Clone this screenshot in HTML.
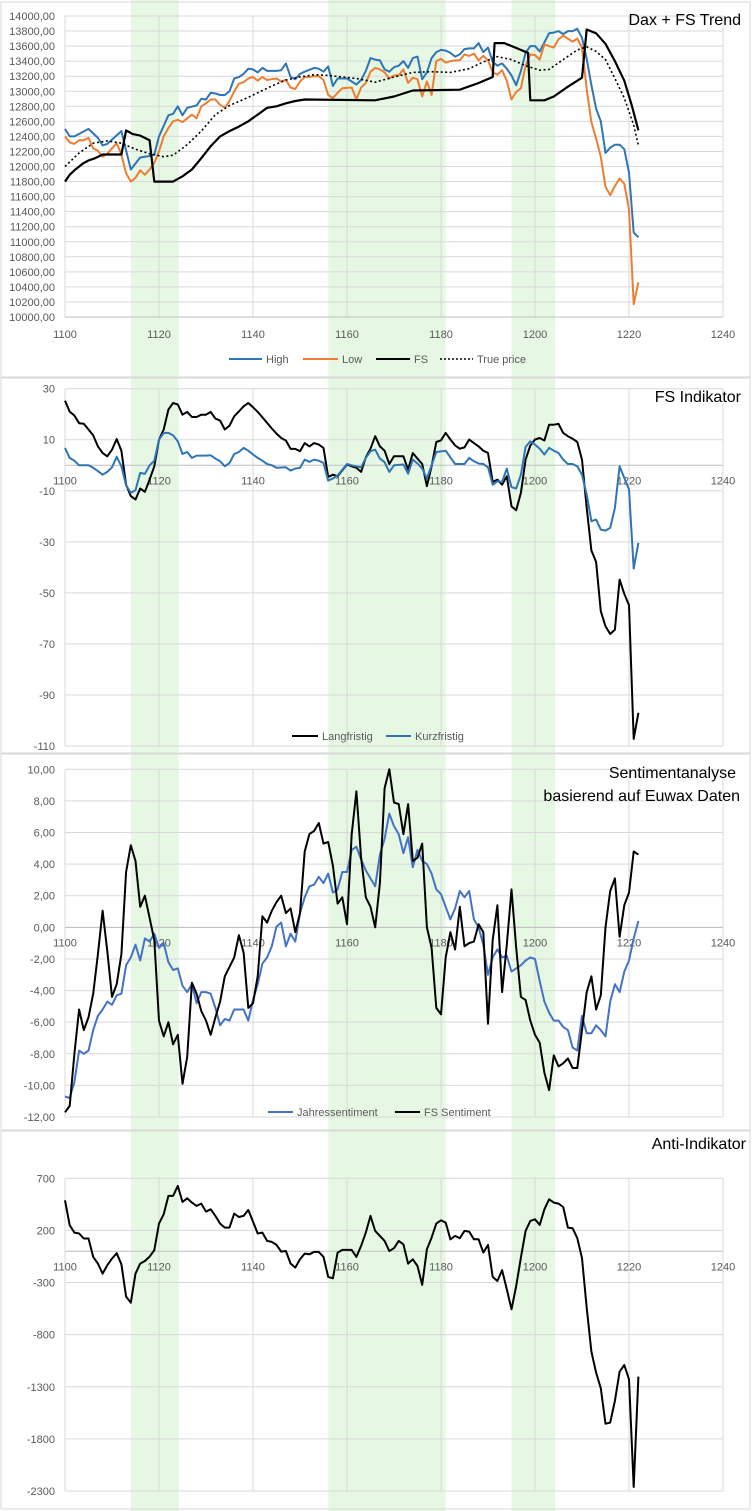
<!DOCTYPE html>
<html><head><meta charset="utf-8">
<style>
html,body{margin:0;padding:0;background:#fff;}
svg{display:block;font-family:"Liberation Sans",sans-serif;}
</style></head>
<body>
<svg id="chart" width="752" height="1511" viewBox="0 0 752 1511" xmlns="http://www.w3.org/2000/svg"></svg>
<script>
// ---------- DATA ----------
const bandStarts = [1114, 1156, 1195];
const bandEnds = [1124.2, 1181, 1204.3];
const xTicks = [1100, 1120, 1140, 1160, 1180, 1200, 1220, 1240];

// Panel 1
const p1Ticks = [10000,10200,10400,10600,10800,11000,11200,11400,11600,11800,12000,12200,12400,12600,12800,13000,13200,13400,13600,13800,14000];
const highX = [1100,1101,1102,1105,1107,1108,1109,1112,1114,1116,1118,1119,1120,1122,1123,1124,1125,1126,1128,1129,1130,1131,1132,1133,1134,1135,1136,1137,1138,1139,1140,1141,1142,1143,1145,1146,1147,1148,1149,1150,1151,1153,1154,1155,1156,1157,1158,1160,1162,1163,1164,1165,1166,1167,1168,1169,1170,1171,1172,1173,1174,1175,1176,1177,1178,1179,1180,1181,1182,1183,1184,1185,1186,1187,1188,1189,1190,1191,1192,1193,1194,1195,1196,1197,1198,1199,1200,1201,1202,1203,1204,1205,1206,1207,1208,1209,1210,1211,1212,1213,1214,1215,1216,1217,1218,1219,1220,1221,1222];
const highY = [12500,12400,12400,12500,12380,12280,12300,12470,11960,12120,12140,12160,12400,12680,12700,12800,12680,12780,12810,12900,12890,12980,12970,12950,12950,13000,13170,13190,13230,13300,13290,13250,13310,13270,13270,13280,13370,13190,13160,13230,13260,13310,13300,13260,13330,13070,13170,13170,13090,13150,13270,13440,13420,13410,13290,13260,13320,13340,13400,13310,13440,13460,13160,13250,13440,13520,13550,13540,13510,13460,13490,13560,13570,13570,13640,13520,13580,13390,13340,13370,13300,13210,13080,13270,13510,13600,13600,13530,13650,13770,13780,13800,13760,13800,13800,13830,13710,13430,13080,12770,12600,12180,12250,12290,12290,12230,11920,11120,11060];
const lowX = [1100,1101,1102,1103,1104,1105,1106,1107,1108,1109,1110,1111,1112,1113,1114,1115,1116,1117,1118,1119,1120,1121,1122,1123,1124,1125,1126,1127,1128,1129,1130,1131,1132,1133,1134,1135,1136,1137,1138,1139,1140,1141,1142,1143,1144,1145,1146,1147,1148,1149,1150,1151,1152,1153,1154,1155,1156,1157,1158,1159,1161,1162,1163,1164,1165,1166,1167,1168,1169,1170,1171,1172,1173,1174,1175,1176,1177,1178,1179,1180,1181,1182,1183,1184,1185,1186,1187,1188,1189,1190,1191,1192,1193,1194,1195,1196,1197,1198,1199,1200,1201,1202,1203,1204,1205,1206,1207,1208,1209,1210,1211,1212,1213,1214,1215,1216,1217,1218,1219,1220,1221,1222];
const lowY = [12400,12320,12300,12350,12350,12380,12240,12210,12130,12170,12240,12310,12160,11910,11800,11850,11950,11890,11960,12050,12200,12400,12510,12600,12620,12590,12640,12690,12640,12800,12840,12890,12890,12820,12780,12870,13000,13100,13120,13170,13190,13140,13190,13150,13160,13170,13130,13150,13050,13030,13130,13190,13190,13200,13200,13150,12950,12910,12980,13040,13050,12890,13050,13110,13260,13310,13290,13250,13170,13210,13210,13290,13110,13180,13160,12930,13130,12950,13400,13430,13380,13400,13410,13410,13490,13470,13500,13410,13470,13410,13250,13220,13280,13140,12890,12990,13040,13340,13490,13480,13420,13620,13600,13580,13690,13740,13700,13660,13700,13580,13030,12590,12370,12130,11730,11620,11740,11840,11770,11430,10170,10460];
const fsX = [1100,1101,1102,1103.8,1105,1106.4,1108,1112,1113,1114.4,1116,1118,1119,1123,1125,1127,1129,1131,1133,1135,1137,1139,1141,1143,1145,1147,1149,1151,1166,1170,1174,1184,1188,1191,1191.4,1193.5,1198.5,1199,1202,1204,1207,1210,1211,1213,1215,1217,1219,1220.6,1222];
const fsY = [11800,11890,11950,12040,12080,12110,12160,12160,12480,12430,12410,12350,11800,11800,11870,11960,12110,12270,12400,12470,12530,12600,12690,12780,12800,12840,12870,12890,12880,12930,13010,13020,13110,13190,13640,13640,13510,12880,12880,12930,13060,13180,13820,13770,13630,13400,13140,12810,12480];
const trueX = [1100,1103,1106,1109,1112,1115,1118,1121,1123,1126,1129,1132,1135,1138,1141,1144,1147,1150,1153,1156,1159,1162,1166,1170,1174,1178,1182,1186,1189,1192,1195,1198,1201,1203,1206,1209,1211,1213,1215,1217,1219,1221,1222];
const trueY = [12000,12180,12310,12340,12310,12230,12170,12130,12150,12290,12470,12690,12810,12890,12980,13070,13150,13190,13220,13210,13190,13170,13120,13190,13250,13260,13250,13300,13390,13460,13420,13340,13280,13290,13420,13550,13590,13530,13420,13170,12910,12550,12280];

// Panel 2
const p2Ticks = [30,10,-10,-30,-50,-70,-90,-110];
const langX = [1100,1101,1102,1103,1104,1105,1106,1107,1108,1109,1110,1111,1112,1113,1114,1115,1116,1117,1118,1119,1120,1121,1122,1123,1124,1125,1126,1127,1128,1129,1130,1131,1132,1133,1134,1135,1136,1137,1138,1139,1140,1141,1142,1143,1144,1145,1146,1147,1148,1149,1150,1151,1152,1153,1154,1155,1156,1157,1158,1160,1161,1162,1163,1164,1165,1166,1167,1168,1169,1170,1172,1173,1174,1175,1176,1177,1178,1179,1180,1181,1182,1183,1184,1185,1186,1187,1188,1189,1190,1191,1192,1193,1194,1195,1196,1197,1198,1199,1200,1201,1202,1203,1204,1205,1206,1207,1208,1209,1210,1211,1212,1213,1214,1215,1216,1217,1218,1219,1220,1221,1222];
const langY = [25.3,21,19.5,16.5,16.3,14,11.7,7.4,4.8,3.5,6.1,10.3,5.7,-7.6,-12.1,-13.4,-9.1,-10.4,-5.6,-0.4,10,14,21.8,24.4,23.8,19.8,20.9,18.9,18.9,19.8,19.8,20.9,18.3,17.5,14,15.5,19.2,21.1,23.1,24.4,22.7,20.9,18.8,16.6,14.4,12.4,10.7,9.7,6.4,6.4,5.5,8.7,7.4,8.7,8.1,6.8,-4.6,-3.7,-4.3,0.3,-0.4,-1,-2.6,3.1,6.5,11.4,7.4,5.7,0.5,3.5,3.5,-1.7,4.8,2.6,0.5,-8.2,-0.4,9.1,9.8,12.7,10.1,7.8,6.5,7,10.1,8.7,7.4,5.7,4.8,-6.5,-5.6,-7.6,-4.3,-16.1,-17.6,-10.8,2.2,7.7,10.1,10.7,9.7,15.9,15.9,16.2,12.7,11.4,10.4,9.1,2.2,-16.7,-33.4,-37.9,-57.2,-63.1,-66.1,-64.4,-44.8,-50.4,-54.8,-107.2,-97];
const kurzX = [1100,1101,1102,1103,1105,1106,1107,1108,1109,1110,1111,1112,1113,1114,1115,1116,1117,1118,1119,1120,1121,1122,1123,1124,1125,1126,1127,1128,1130,1131,1132,1133,1134,1135,1136,1137,1138,1139,1140,1141,1142,1143,1144,1145,1147,1148,1149,1150,1151,1152,1153,1154,1155,1156,1157,1158,1160,1161,1162,1163,1164,1165,1166,1167,1168,1169,1170,1172,1173,1174,1175,1176,1177,1178,1179,1181,1182,1183,1185,1186,1187,1188,1189,1190,1191,1192,1193,1194,1195,1196,1197,1198,1199,1200,1201,1202,1203,1204,1205,1206,1207,1208,1209,1210,1211,1212,1213,1214,1215,1216,1217,1218,1219,1220,1221,1222];
const kurzY = [6.8,2.9,1.8,0,0,-1,-2.3,-3.7,-2.6,-0.8,3.3,-0.4,-7.8,-10.8,-9.8,-3,-3.4,0,1.8,10,12.7,12.7,11.7,9.4,4.4,5.2,2.9,3.8,3.8,3.9,2.6,1.6,-0.4,0.9,4.4,5.2,6.8,5.7,4.2,2.9,1.8,0.5,0,-1,-0.8,-2.1,-1.3,-1,2.2,1.3,2.2,1.8,0.9,-6,-5.2,-4,0.5,0,-0.4,-0.8,2.9,5.5,6.1,2.6,1.2,-2.6,0,0.3,-3.3,2.2,0.7,-1.3,-5.2,0,5.2,5.7,3.1,0.5,0.5,2.9,1.6,0.7,0.5,-0.8,-7.6,-6.3,-6.5,-1.3,-8.6,-9.1,-3.7,7.2,9.4,8.1,6.5,4.2,6.8,5.7,4.8,2.2,0.5,0.5,-0.4,-3.7,-11.5,-21.9,-21.3,-25.2,-25.6,-24.5,-16.7,-0.4,-5,-9.5,-40.5,-30.4];

// Panel 3
const p3Ticks = [10,8,6,4,2,0,-2,-4,-6,-8,-10,-12];
const p3Labels = ["10,00","8,00","6,00","4,00","2,00","0,00","-2,00","-4,00","-6,00","-8,00","-10,00","-12,00"];
const fsSentY = [-11.7,-11.3,-8,-5.2,-6.5,-5.7,-4.2,-1.7,1.05,-1.5,-4.4,-3.6,-1.7,3.5,5.2,4.2,1.3,2,0.6,-0.8,-5.9,-6.9,-6,-7.4,-6.8,-9.9,-8.2,-3.5,-4.2,-5.3,-5.9,-6.8,-5.7,-4.7,-3.1,-2.5,-1.9,-0.5,-1.6,-5.1,-4.8,-3.1,0.7,0.3,1.05,1.6,2,0.9,1.2,-0.3,0.9,4.8,5.9,6.1,6.6,5.3,5.4,3.9,1.5,1.9,0.2,5.9,8.6,4.4,1.9,1.3,0,2.8,8.8,10,7.9,7.8,5.9,7.8,4.2,4.4,5.3,0,-1.3,-5.1,-5.5,-1.9,-0.3,-1.4,1.3,-1.2,-1,-0.9,0.2,-0.3,-6.1,-0.8,1.4,-4.1,-1.1,2.4,-1.3,-4.4,-4.6,-5.9,-6.8,-7.3,-9.2,-10.3,-8.1,-8.8,-8.6,-8.3,-8.9,-8.9,-6.5,-4.1,-3.1,-5.2,-4.3,0,2.3,3.1,-0.6,1.4,2.2,4.8,4.6];
const jahresY = [-10.7,-10.8,-9.8,-7.8,-8,-7.8,-6.5,-5.6,-5.2,-4.7,-4.9,-4.3,-4.2,-2.4,-1.9,-1.1,-2.1,-0.7,-0.9,-0.4,-1.3,-1,-2.2,-2.7,-2.6,-3.7,-4.1,-3.6,-4.8,-4.1,-4.1,-4.2,-5.1,-6.2,-5.8,-5.9,-5.2,-5.2,-5.2,-5.9,-4.6,-3.6,-2.3,-1.9,-1.2,0.05,0.3,-1.2,-0.4,-0.9,0.9,1.9,2.6,2.7,3.2,2.8,3.4,2.2,2.4,3.5,3.5,4.9,5.1,4.3,3.6,3.1,2.6,4.6,5.6,7.2,6.4,5.9,4.7,5.7,3.8,4.9,4.2,4,3.4,2.4,2.1,1.3,0.5,1.2,2.3,1.9,2.3,0.5,0,-1.1,-3,-1.9,-1.4,-1.9,-1.8,-2.8,-2.6,-2.4,-2.1,-1.9,-2,-3.4,-4.7,-5.4,-5.9,-5.9,-6.3,-6.5,-7.6,-7.8,-5.6,-6.7,-6.7,-6.2,-6.5,-6.9,-4.7,-3.6,-4.1,-2.8,-2.1,-0.7,0.4];

// Panel 4
const p4Ticks = [700,200,-300,-800,-1300,-1800,-2300];
const antiY = [489,250,179,170,122,122,-54,-118,-214,-134,-70,-19,-125,-435,-493,-214,-118,-93,-51,10,265,355,531,531,627,473,508,467,435,457,381,403,339,265,227,227,361,329,339,397,285,170,179,99,90,61,-3,3,-118,-157,-77,-22,-29,-6,-6,-54,-246,-259,-13,13,13,13,-54,51,179,339,195,147,99,3,29,99,67,-118,-77,-141,-323,19,131,265,297,275,115,147,125,195,189,115,115,-13,61,-246,-285,-182,-365,-557,-333,-61,195,291,307,253,403,499,467,457,425,227,221,125,-67,-541,-963,-1164,-1315,-1654,-1644,-1436,-1155,-1091,-1228,-2261,-1202];

// ---------- RENDER ----------
const NS = "http://www.w3.org/2000/svg";
const svg = document.getElementById('chart');
function mk(tag, attrs, parent) {
  const e = document.createElementNS(NS, tag);
  for (const k in attrs) e.setAttribute(k, attrs[k]);
  (parent || svg).appendChild(e);
  return e;
}
const X0 = 65, X1 = 723;
function xs(v) { return X0 + (v - 1100) * (X1 - X0) / 140; }
function seqX(n) { const a = []; for (let i = 0; i < n; i++) a.push(1100 + i); return a; }

for (let i = 0; i < bandStarts.length; i++) {
  const r = mk('rect', {x: xs(bandStarts[i]), y: 0, width: xs(bandEnds[i]) - xs(bandStarts[i]), height: 1511, fill: '#E6F8E4'});
  
  
}

function panel(cfg) {
  const g = mk('g', {});
  
  
  mk('rect', {x: 1, y: cfg.top, width: 749, height: cfg.h, fill: 'none', stroke: '#d9d9d9', 'stroke-width': 1}, g);
  const ys = v => cfg.yTop + (cfg.max - v) * (cfg.yBot - cfg.yTop) / (cfg.max - cfg.min);
  cfg.ticks.forEach((t, i) => {
    const y = ys(t);
    const gl = mk('line', {x1: X0, x2: X1, y1: y, y2: y, stroke: '#d9d9d9', 'stroke-width': 1}, g);
    
    
    const tl = mk('text', {x: 55, y: y + 4, 'text-anchor': 'end', 'font-size': 11, fill: '#595959'}, g);
    tl.textContent = cfg.labels ? cfg.labels[i] : String(t);
    
    
  });
  xTicks.forEach(t => {
    const x = xs(t);
    const vl = mk('line', {x1: x, x2: x, y1: cfg.yTop, y2: cfg.yBot, stroke: '#d9d9d9', 'stroke-width': 1}, g);
    
    
  });
  const axY = cfg.axisAt !== undefined ? ys(cfg.axisAt) : cfg.yBot;
  const ax = mk('line', {x1: X0, x2: X1, y1: axY, y2: axY, stroke: '#bfbfbf', 'stroke-width': 1}, g);
  
  
  xTicks.forEach(t => {
    const tl = mk('text', {x: xs(t), y: axY + (cfg.axisAt !== undefined ? 19 : 21), 'text-anchor': 'middle', 'font-size': 11, fill: '#595959'}, g);
    tl.textContent = t;
    
    
  });
  cfg.series.forEach(s => {
    const xsArr = s.x || seqX(s.y.length);
    const pts = s.y.map((v, i) => xs(xsArr[i]).toFixed(1) + ',' + ys(v).toFixed(1)).join(' ');
    const attrs = {points: pts, fill: 'none', stroke: s.color, 'stroke-width': s.w || 2, 'stroke-linejoin': 'round'};
    if (s.dash) attrs['stroke-dasharray'] = s.dash;
    const pl = mk('polyline', attrs, g);
    
    
  });
  cfg.title.forEach(t => {
    const tt = mk('text', {x: t.x, y: t.y, 'text-anchor': 'end', 'font-size': 16, fill: '#000'}, g);
    tt.textContent = t.text;
    
    
  });
  cfg.legend.forEach(l => {
    const lg = mk('g', {}, g);
    
    
    const la = {x1: l.x, x2: l.x + l.len, y1: l.y, y2: l.y, stroke: l.color, 'stroke-width': l.w || 2};
    if (l.dash) la['stroke-dasharray'] = l.dash;
    mk('line', la, lg);
    const lt = mk('text', {x: l.x + l.len + 4, y: l.y + 4, 'font-size': 11, fill: '#595959'}, lg);
    lt.textContent = l.text;
  });
}

panel({name: 'dax-fs-trend-chart', top: 2, h: 375, yTop: 16, yBot: 317, max: 14000, min: 10000,
  ticks: p1Ticks, labels: p1Ticks.map(t => t + ',00'),
  series: [
    {name: 'high-line', x: highX, y: highY, color: '#2E75B6', w: 2},
    {name: 'low-line', x: lowX, y: lowY, color: '#ED7D31', w: 2},
    {name: 'true-price-line', x: trueX, y: trueY, color: '#000', w: 1.6, dash: '2,2.5'},
    {name: 'fs-line', x: fsX, y: fsY, color: '#000', w: 2.2}
  ],
  title: [{text: 'Dax + FS Trend', x: 741, y: 25}],
  legend: [
    {text: 'High', x: 229, y: 359, len: 33, color: '#2E75B6'},
    {text: 'Low', x: 303, y: 359, len: 35, color: '#ED7D31'},
    {text: 'FS', x: 376, y: 359, len: 34, color: '#000'},
    {text: 'True price', x: 440, y: 359, len: 33, color: '#000', w: 1.6, dash: '2,2'}
  ]});

panel({name: 'fs-indikator-chart', top: 378, h: 375, yTop: 388.7, yBot: 746, max: 30, min: -110,
  ticks: p2Ticks, axisAt: 0,
  series: [
    {name: 'langfristig-line', x: langX, y: langY, color: '#000', w: 2},
    {name: 'kurzfristig-line', x: kurzX, y: kurzY, color: '#2E75B6', w: 2}
  ],
  title: [{text: 'FS Indikator', x: 741, y: 402}],
  legend: [
    {text: 'Langfristig', x: 292, y: 736, len: 26, color: '#000'},
    {text: 'Kurzfristig', x: 386, y: 736, len: 25, color: '#2E75B6'}
  ]});

panel({name: 'sentiment-chart', top: 754, h: 376, yTop: 769.3, yBot: 1117, max: 10, min: -12,
  ticks: p3Ticks, labels: p3Labels, axisAt: 0,
  series: [
    {name: 'jahressentiment-line', y: jahresY, color: '#4472C4', w: 2},
    {name: 'fs-sentiment-line', y: fsSentY, color: '#000', w: 2}
  ],
  title: [{text: 'Sentimentanalyse', x: 736, y: 778}, {text: 'basierend auf Euwax Daten', x: 740, y: 801}],
  legend: [
    {text: 'Jahressentiment', x: 268, y: 1112, len: 25, color: '#4472C4'},
    {text: 'FS Sentiment', x: 395, y: 1112, len: 25, color: '#000'}
  ]});

panel({name: 'anti-indikator-chart', top: 1131, h: 378, yTop: 1178.3, yBot: 1491, max: 700, min: -2300,
  ticks: p4Ticks, axisAt: 0,
  series: [
    {name: 'anti-indikator-line', y: antiY, color: '#000', w: 2}
  ],
  title: [{text: 'Anti-Indikator', x: 746, y: 1149}],
  legend: []});
</script>
</body></html>
